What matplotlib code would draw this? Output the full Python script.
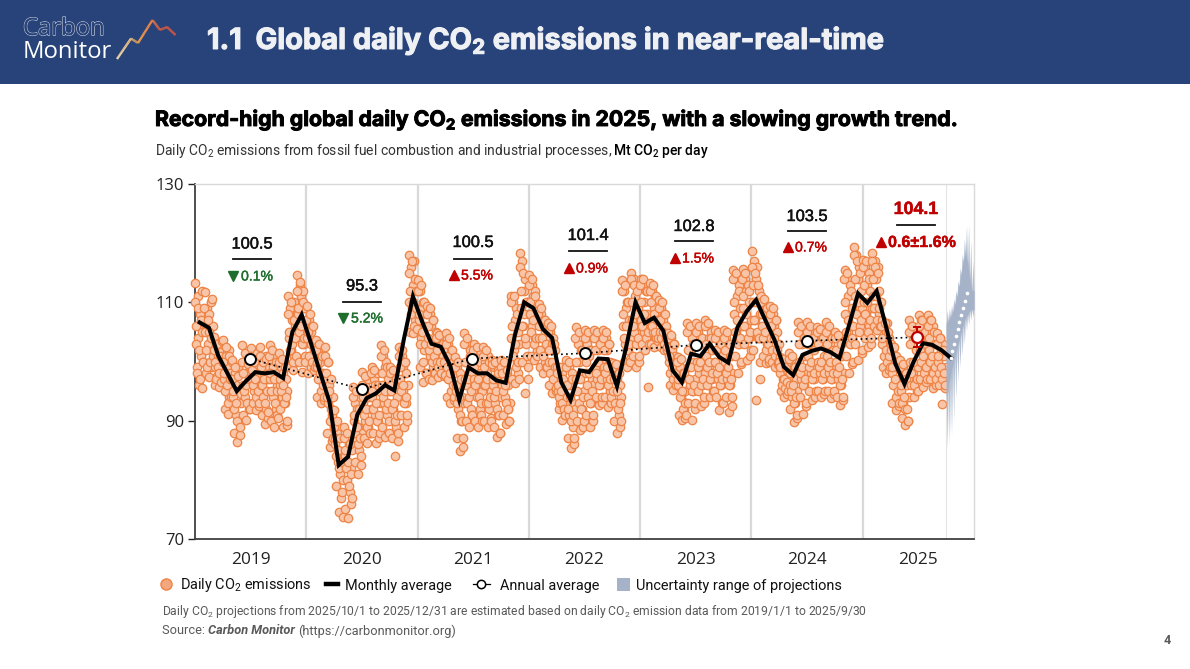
import numpy as np
import matplotlib
matplotlib.use("Agg")
import matplotlib.pyplot as plt
from matplotlib.lines import Line2D
from matplotlib.patches import Rectangle, Patch
from matplotlib.collections import LineCollection
from matplotlib.colors import LinearSegmentedColormap
import matplotlib.patheffects as pe

# ---------- data ----------
years = [2019, 2020, 2021, 2022, 2023, 2024, 2025]
annual_x = [2019.49, 2020.50, 2021.49, 2022.50, 2023.50, 2024.50, 2025.49]
annual = [100.5, 95.3, 100.5, 101.4, 102.8, 103.5, 104.1]
annual_err_2025 = 1.7
growth = ["0.1%", "5.2%", "5.5%", "0.9%", "1.5%", "0.7%", "0.6±1.6%"]
growth_up = [False, False, True, True, True, True, True]

monthly = [
    106.6, 105.7, 101.0, 98.0, 95.0, 96.7, 98.2, 98.0, 98.2, 97.2, 105.0, 107.9,
    103.1, 98.1, 93.2, 82.5, 83.9, 91.0, 93.8, 94.6, 96.0, 95.1, 103.6, 111.0,
    106.7, 103.0, 102.5, 99.4, 93.5, 99.0, 98.0, 98.0, 96.8, 96.4, 104.5, 110.0,
    109.0, 105.5, 104.0, 96.5, 93.5, 98.5, 98.2, 100.5, 100.4, 95.8, 102.5, 110.0,
    106.5, 107.4, 105.2, 98.5, 96.5, 101.3, 100.9, 103.0, 100.8, 99.8, 105.8, 108.5,
    110.4, 107.0, 103.6, 99.1, 97.7, 101.1, 101.8, 102.2, 101.6, 100.6, 106.0, 111.5,
    109.9, 111.9, 106.0, 99.7, 96.2, 100.0, 103.1, 102.8, 101.9, 100.6,
]

proj_x = [2025.79, 2025.805, 2025.82, 2025.835, 2025.853, 2025.868, 2025.883, 2025.90, 2025.918, 2025.936]
proj = [100.6, 101.8, 103.0, 104.3, 105.5, 106.7, 107.9, 109.1, 110.3, 111.5]

band_top_tip = [108.7, 109.0, 109.6, 110.6, 112.0, 113.6, 115.8, 118.2, 120.8, 122.9, 123.2, 120.5, 117.0]
band_top_val = [106.5, 106.9, 107.6, 108.3, 109.6, 111.0, 112.8, 114.8, 117.0, 118.3, 116.6, 114.0, 112.0]
band_bot_val = [94.0, 95.8, 97.6, 99.4, 101.0, 102.2, 103.6, 105.0, 106.2, 107.4, 108.0, 108.6, 108.8]
band_bot_tip = [85.4, 85.9, 87.5, 90.0, 93.6, 96.6, 99.0, 101.0, 103.0, 105.2, 106.2, 107.0, 107.6]

daily_2019 = [
    [113.2, 106, 99, 111, 104, 96, 108, 101, 95.5, 112, 100, 106.5],
    [111.8, 105, 98, 109, 103, 97.4, 108, 100, 110, 104, 99, 106],
    [104.2, 99, 96, 103, 97.5, 101, 95.7, 102, 98, 100, 96.5, 103],
    [103.6, 97, 92, 101, 95, 99, 91.2, 102, 94, 98, 93, 100],
    [100.2, 94, 88, 98, 91, 96, 86.4, 99, 90, 95, 87.5, 93],
    [102.8, 96, 91, 100, 94, 98, 90.1, 101, 93, 97, 92, 99],
    [102.2, 97, 93, 100, 95, 99, 91.8, 101, 94, 98, 92.5, 96],
    [102.5, 96, 91, 100, 94, 98, 89.5, 101, 92, 97, 90.5, 99],
    [102.8, 97, 90, 100, 94, 99, 89, 101, 92, 96, 91, 98],
    [101.4, 96, 92, 99, 94, 98, 89, 100, 93, 97, 89.2, 95],
    [111, 104, 99, 109, 102, 107, 98.5, 110, 101, 106, 100, 108],
    [114.6, 108, 100, 113, 105, 111, 98.3, 112, 103, 109, 101, 107],
]
daily_2020 = [
    [109.3, 104, 98, 107, 101, 105, 99, 106, 100, 103, 98.5, 102],
    [103.6, 99, 94, 102, 97, 100, 93, 101, 95, 98, 93.5, 96],
    [102.5, 97, 88, 100, 93, 96, 85.6, 92, 90, 86.5, 94, 89],
    [91.8, 86, 79, 88, 83, 85, 74.5, 81, 77, 84, 78, 73.8],
    [89, 84, 75, 87, 80, 83, 73.5, 86, 78, 82, 76, 85],
    [95.7, 90, 83, 93, 87, 92, 81, 89, 85, 94, 82.5, 88],
    [98.3, 93, 87, 96, 90, 95, 86.2, 97, 89, 94, 88, 92],
    [99.1, 94, 88, 97, 91, 96, 86.2, 98, 90, 95, 87, 93],
    [102.8, 96, 89, 101, 93, 99, 87.3, 100, 91, 97, 88, 95],
    [99, 95, 87, 98, 92, 96, 84, 97, 89, 94, 86.5, 91],
    [102.5, 97, 91, 101, 95, 99, 89, 100, 93, 98, 90, 96],
    [118, 110, 105, 116, 109, 113, 104.8, 117, 107, 112, 106, 108],
]
daily_2021 = [
    [113.8, 107, 99, 112, 104, 109, 96.6, 110, 102, 106, 98, 108],
    [109.3, 104, 97, 108, 101, 106, 96.9, 107, 99, 103, 98, 105],
    [104.8, 100, 97.4, 104, 99, 102, 98, 103, 100, 101, 97.6, 98.5],
    [104.8, 99, 94, 103, 97, 101, 93, 102, 95, 100, 93.5, 98],
    [100.8, 95, 87, 99, 92, 96, 84.8, 98, 90, 94, 85.5, 93],
    [104.8, 97, 90, 103, 93, 100, 89, 102, 92, 98, 91, 95],
    [103, 97, 90, 101, 94, 100, 89, 102, 92, 98, 91, 95],
    [102.5, 96, 90, 100, 93, 98, 89, 101, 92, 97, 90.5, 95],
    [100.3, 96, 89, 99, 93, 97, 87.3, 98.5, 91, 95, 88, 94],
    [100.3, 96, 91, 99, 94, 97, 89.5, 98, 92, 96, 90, 93],
    [111, 104, 97, 110, 102, 107, 96.3, 109, 100, 105, 98, 103],
    [118.3, 109, 100, 117, 106, 112, 94.6, 114, 103, 110, 97, 108],
]
daily_2022 = [
    [114.6, 108, 101, 113, 106, 111, 100.3, 112, 104, 109, 102, 107],
    [109.8, 104, 99, 108, 102, 106, 98, 107, 100, 105, 99, 103],
    [106.5, 100, 96, 105, 98, 103, 94.6, 104, 97, 102, 95, 99],
    [99, 95, 92, 98, 93, 97, 90.1, 98, 94, 96, 91, 93],
    [100.3, 94, 87, 99, 91, 96, 85.3, 98, 89, 93, 86, 92],
    [105.9, 97, 90, 103, 93, 100, 88.4, 102, 92, 98, 89, 95],
    [105.3, 98, 91, 103, 94, 101, 89, 102, 93, 97, 90, 96],
    [105.3, 99, 94, 104, 97, 102, 92.7, 103, 96, 100, 93, 98],
    [105.3, 99, 94, 104, 97, 102, 92.3, 103, 95, 100, 93, 98],
    [99.7, 95, 90, 99, 93, 97, 87.9, 98, 91, 96, 89, 94],
    [113.8, 106, 100, 112, 103, 109, 99, 110, 102, 107, 100.5, 104],
    [114.9, 107, 101, 114, 105, 111, 99, 113, 103, 109, 100, 106],
]
daily_2023 = [
    [114, 107, 103, 113, 105, 110, 102, 112, 104, 108, 95.7, 106],
    [113.2, 106, 103, 112, 105, 109, 102.5, 111, 104, 108, 103.5, 107],
    [110.4, 105, 102.5, 109, 104, 107, 102, 108, 103, 106, 102, 104.5],
    [104.8, 100, 96, 104, 98, 102, 95.2, 103, 97, 101, 96, 99],
    [100.8, 96, 91, 99, 94, 97, 90.1, 98, 92, 95, 90.5, 93],
    [106.5, 99, 93, 105, 96, 102, 90.1, 104, 95, 100, 92, 97],
    [106.5, 100, 95, 105, 98, 103, 92.4, 104, 96, 101, 93, 98],
    [107, 101, 96, 106, 99, 104, 94, 105, 97, 102, 95, 100],
    [105.3, 100, 94, 104, 97, 102, 91.8, 103, 96, 101, 93, 98],
    [105.3, 100, 94, 104, 97, 102, 91.5, 103, 96, 101, 92.5, 98],
    [115.5, 108, 101, 114, 105, 111, 98, 113, 103, 109, 99.5, 106],
    [115.7, 109, 103, 114, 106, 112, 100.3, 113, 104, 110, 101, 107],
]
daily_2024 = [
    [118.6, 110, 102, 117, 107, 114, 93.5, 116, 104, 112, 97, 108],
    [111, 106, 101, 110, 104, 108, 99.7, 109, 103, 107, 100, 105],
    [109.3, 104, 100, 108, 102, 106, 99, 107, 101, 105, 99.5, 103],
    [100.8, 98, 95, 100, 97, 99, 94, 100.3, 96, 98.5, 94.5, 97],
    [101.4, 96, 92, 100, 94, 98, 89.8, 99, 93, 97, 90.5, 95],
    [106.7, 100, 94, 105, 97, 103, 91.2, 104, 96, 101, 92.5, 98],
    [106.7, 101, 95, 105, 98, 103, 93.5, 104, 97, 102, 94, 99],
    [105.9, 100, 95, 105, 98, 103, 94, 104, 97, 101, 94.5, 99],
    [106.7, 101, 95, 105, 98, 103, 93.8, 104, 97, 102, 94.5, 99],
    [105, 100, 94, 104, 97, 102, 92.7, 103, 96, 101, 93.5, 98],
    [115.5, 108, 101, 114, 105, 111, 98, 113, 103, 109, 99.5, 106],
    [119.4, 111, 103, 118, 108, 114, 100.3, 116, 106, 112, 101.5, 109],
]
daily_2025 = [
    [117.2, 110, 104, 116, 108, 113, 102.5, 115, 106, 112, 103, 109],
    [118.3, 111, 106, 117, 109, 114, 105.3, 116, 108, 112, 106, 110],
    [107, 103, 99, 106, 101, 105, 98, 106.5, 100, 104, 98.5, 102],
    [103, 98, 93, 102, 96, 100, 91.8, 101, 94, 99, 92.5, 97],
    [100.2, 95, 90.5, 99, 93, 97, 89.3, 98, 92, 96, 90, 94],
    [107, 100, 96, 106, 98, 104, 94, 105, 97, 102, 95, 99],
    [107.9, 102, 97, 107, 100, 105, 95.7, 106, 99, 103, 96.5, 101],
    [107.9, 102, 97, 107, 100, 105, 95.5, 106, 99, 103, 96, 101],
    [104.8, 100, 96, 104, 98, 102, 92.9, 103, 97, 101, 95.5, 99],
]

# second reading of the same months, filling the dense inner part of the cloud
more_2019 = [
    [110, 103, 98, 109, 102, 97, 107, 105, 100],
    [109, 102, 99, 107, 105, 100, 104, 110.5, 101],
    [102, 100, 97, 103, 99, 98, 101, 96.5, 103.5],
    [100, 98, 95, 102.5, 96, 93, 101, 97, 94],
    [97, 95, 92, 99, 93, 90, 97.5, 89, 94.5],
    [100, 98, 95, 101.5, 96, 93, 99.5, 97, 92],
    [101, 98.5, 96, 100, 97, 94, 101.5, 95, 93],
    [101, 99, 96, 100, 97, 93, 100.5, 95, 91.5],
    [101, 98, 95, 102, 97, 93, 100, 95, 90.5],
    [100, 97, 95, 100.5, 96, 93, 99, 94, 90],
    [108, 105, 102, 110, 103, 100, 107, 104, 101],
    [112, 109, 105, 113.5, 106, 103, 110, 104, 100],
]
more_2020 = [
    [107, 105, 101, 108, 103, 100, 106, 102, 99],
    [102, 100, 97, 103, 98, 95, 101, 96, 94],
    [101, 98, 94, 100, 95, 90, 97, 91, 87],
    [89, 87, 84, 90, 85, 82, 87, 83, 80],
    [87, 85, 82, 88, 83, 79, 86, 81, 77],
    [94, 91, 88, 95, 89, 86, 92, 87, 84],
    [96, 94, 91, 97.5, 92, 89, 95, 90, 88],
    [98, 95, 92, 98.5, 93, 90, 96, 91, 88],
    [101, 98, 94, 102, 95, 92, 99, 93, 90],
    [98, 96, 92, 98.5, 93, 90, 97, 91, 88],
    [101, 99, 95, 102, 96, 93, 100, 94, 91],
    [115, 112, 108, 117, 110, 106, 114, 109, 105.5],
]
more_2021 = [
    [112, 108, 103, 113, 105, 100, 110, 103, 98],
    [108, 106, 102, 109, 103, 100, 107, 101, 98],
    [104, 102, 99, 104.5, 100, 98, 103, 100, 97.8],
    [103, 101, 97, 104, 98, 95, 102, 96, 94],
    [99, 96, 93, 100, 94, 91, 97, 90, 87],
    [103, 100, 96, 104, 97, 94, 101, 95, 91],
    [102, 99, 96, 102.5, 97, 94, 100, 93, 90],
    [101, 99, 96, 102, 97, 93, 100, 94, 90],
    [99.5, 97, 94, 100, 95, 92, 98, 91, 88],
    [99, 98, 95, 100, 96, 93, 98.5, 92, 90],
    [110, 106, 101, 111, 103, 99, 108, 100, 97],
    [116, 112, 106, 115, 108, 104, 110, 101, 99],
]
more_2022 = [
    [113, 110, 105, 114, 107, 103, 111, 104, 101],
    [108, 106, 102, 109, 104, 101, 107, 103, 99],
    [105, 102, 98, 106, 100, 97, 103, 99, 95.5],
    [98, 96, 94, 99, 95, 93, 97, 92, 91],
    [99, 96, 92, 100, 94, 90, 97, 91, 87],
    [104, 100, 95, 105, 97, 92, 102, 94, 90],
    [104, 100, 96, 105, 98, 93, 102, 95, 91],
    [104, 102, 98, 105, 100, 96, 103, 97, 94],
    [104, 102, 98, 105, 99, 96, 103, 97, 94],
    [99, 97, 93, 99.5, 95, 92, 98, 93, 90],
    [112, 108, 104, 113, 106, 102, 110, 103, 100],
    [114, 110, 106, 113, 108, 103, 112, 104, 101],
]
more_2023 = [
    [113, 110, 106, 114, 108, 104, 112, 105, 103],
    [112, 110, 106, 113, 108, 105, 111, 107, 104],
    [109, 107, 104, 110, 105, 103, 108, 104, 102.5],
    [104, 101, 98, 104.5, 99, 97, 103, 98, 96],
    [100, 97, 94, 100.5, 95, 92, 98, 93, 91],
    [105, 102, 97, 106, 99, 95, 103, 96, 93],
    [105, 103, 99, 106, 100, 96, 104, 97, 94],
    [106, 103, 99, 106.5, 100, 97, 104, 98, 95],
    [104, 102, 98, 105, 99, 96, 103, 97, 93],
    [104, 102, 98, 105, 99, 96, 103, 97, 94],
    [114, 110, 105, 115, 107, 103, 112, 104, 100],
    [114, 111, 106, 115, 108, 104, 112, 105, 102],
]
more_2024 = [
    [116, 113, 107, 115, 110, 105, 113, 104, 100],
    [110, 108, 104, 110.5, 105, 102, 109, 103, 100.5],
    [108, 106, 102, 109, 104, 101, 107, 102, 100],
    [100, 99, 96, 100.5, 97, 95.5, 99, 96.5, 95],
    [100.5, 98, 95, 101, 96, 93, 99, 94, 91],
    [105, 103, 98, 106, 99, 96, 104, 97, 93],
    [105, 103, 99, 106, 100, 97, 104, 98, 95],
    [105, 103, 99, 105.5, 100, 97, 104, 98, 95],
    [105, 103, 99, 106, 100, 97, 104, 98, 95],
    [104, 102, 98, 104.5, 99, 96, 103, 97, 94],
    [114, 110, 105, 115, 107, 103, 112, 104, 100],
    [118, 114, 108, 117, 110, 105, 115, 107, 102],
]
more_2025 = [
    [116, 113, 108, 117, 110, 105, 114, 107, 104],
    [117, 114, 109, 116, 111, 107, 115, 109, 106],
    [106, 104, 101, 106.5, 102, 100, 105, 101, 99],
    [102, 99, 96, 102.5, 97, 94, 100, 95, 93],
    [99, 96, 93, 99.5, 94, 92, 97, 92, 90],
    [105, 103, 98, 106, 100, 96, 104, 97, 95],
    [106, 104, 100, 107, 101, 98, 105, 99, 97],
    [106, 104, 100, 107, 101, 98, 105, 99, 97],
    [103, 101, 98, 104, 99, 97, 102, 98, 96],
]

# ---------- layout ----------
W, H = 1190, 669
plt.rcParams["font.family"] = ["Roboto", "DejaVu Sans"]
plt.rcParams["mathtext.default"] = "regular"
NAVY = "#27437A"
RED = "#C00000"
GREEN = "#1F6E2E"
DARK = "#111111"
SUB2 = "$_{\\mathregular{2}}$"


def fx(px):
    return px / W


def fy(py):
    return 1 - py / H


fig = plt.figure(figsize=(W / 100, H / 100), dpi=100, facecolor="white")
renderer = fig.canvas.get_renderer()


def fit_width(t, px):
    t.set_fontsize(t.get_fontsize() * px / t.get_window_extent(renderer).width)
    return t


# header band
fig.add_artist(Rectangle((0, fy(84)), 1, 84 / H, transform=fig.transFigure, color=NAVY, lw=0, zorder=0))

# main axes
ax = fig.add_axes([fx(195), fy(539), 779 / W, 355 / H], zorder=2)
ax.set_xlim(2019, 2026)
ax.set_ylim(70, 130)

for sp in ("top", "right"):
    ax.spines[sp].set_color("#D9D9D9")
    ax.spines[sp].set_linewidth(1.0)
for sp in ("left", "bottom"):
    ax.spines[sp].set_color("#404040")
    ax.spines[sp].set_linewidth(1.3)

for yr in years[1:]:
    ax.axvline(yr, color="#D9D9D9", lw=1.6, zorder=1)
ax.axvline(2025.75, color="#E4E4E4", lw=0.8, zorder=1)

ax.set_yticks([70, 90, 110, 130])
ax.tick_params(axis="y", labelsize=12, colors="#222222", length=5, width=1.0, pad=3)
ax.set_xticks([y + 0.5 for y in years])
ax.set_xticklabels([str(y) for y in years])
ax.tick_params(axis="x", labelsize=12.4, colors="#222222", length=0, pad=9)
for lab in ax.get_xticklabels() + ax.get_yticklabels():
    lab.set_family("Open Sans")

# daily points
xs, ys = [], []
blocks = [daily_2019, daily_2020, daily_2021, daily_2022, daily_2023, daily_2024, daily_2025]
extras = [more_2019, more_2020, more_2021, more_2022, more_2023, more_2024, more_2025]
for yr, block, extra in zip(years, blocks, extras):
    for m in range(len(block)):
        for k, v in enumerate(block[m]):
            xs.append(yr + (m + (k + 0.5) / len(block[m])) / 12)
            ys.append(v)
        for k, v in enumerate(extra[m]):
            xs.append(yr + (m + (k + 0.2) / len(extra[m])) / 12)
            ys.append(v)
ax.scatter(xs, ys, s=37, facecolor="#F8C5A8", edgecolor="#EE8345", linewidth=0.9, zorder=3, clip_on=False)

# uncertainty band: saw-toothed envelope, one tooth for each value
n = len(band_top_tip)
bx = np.linspace(2025.75, 2026.0, 2 * n + 1)
top = np.empty(2 * n + 1)
bot = np.empty(2 * n + 1)
top[1::2] = band_top_tip
bot[1::2] = band_bot_tip
top[0::2] = band_top_val + band_top_val[-1:]
bot[0::2] = band_bot_val + band_bot_val[-1:]
ax.fill_between(bx, bot, top, color="#B4C0D2", lw=0, zorder=3.5)
ax.fill_between(bx[0::2], bot[0::2], top[0::2], color="#A5B2C8", lw=0, zorder=3.6)

# annual dotted trend
ax.plot(annual_x, annual, color="black", lw=1.2, ls=(0, (1, 2)), zorder=4)

# monthly average
mx = [years[i // 12] + (i % 12 + 0.5) / 12 for i in range(len(monthly))]
ax.plot(mx, monthly, color="black", lw=2.9, solid_joinstyle="miter", zorder=5)

# projection dots
ax.scatter(proj_x, proj, s=7, color="white", lw=0, zorder=6)

# annual markers
ax.errorbar(annual_x[-1], annual[-1], yerr=annual_err_2025, color=RED, lw=1.4, capsize=3, capthick=1.4, zorder=6)
ax.scatter(annual_x[:-1], annual[:-1], s=62, facecolor="white", edgecolor="black", linewidth=1.4, zorder=7)
ax.scatter(annual_x[-1:], annual[-1:], s=62, facecolor="white", edgecolor=RED, linewidth=1.6, zorder=7)

# annual annotations (pixel layout)
lab_x = [252, 362, 473, 588, 694, 807, 916]
lab_y = [244, 286, 242.5, 235.5, 226.5, 216.5, 209.5]
line_y = [259, 302, 259, 251, 241, 231, 225]
pct_y = [276.5, 318.5, 275.5, 268.5, 258.5, 247.5, 242.5]
tri_dx = [-19, -19, -19, -19, -19, -19, -35]
pct_dx = [-11, -11, -12, -12, -12, -12, -28]

for i in range(7):
    c = RED if i == 6 else DARK
    fig.text(fx(lab_x[i]), fy(lab_y[i]), f"{annual[i]}", ha="center", va="center",
             fontsize=12.8 if i == 6 else 11.8, color=c, weight="bold" if i == 6 else "normal", zorder=10,
             family="Liberation Sans", path_effects=[pe.withStroke(linewidth=0.35, foreground=c)])
    fig.add_artist(Line2D([fx(lab_x[i] - 19), fx(lab_x[i] + 19)], [fy(line_y[i])] * 2, color="#111111", lw=1.3,
                          transform=fig.transFigure, zorder=10))
    col = RED if growth_up[i] else GREEN
    fig.add_artist(Line2D([fx(lab_x[i] + tri_dx[i])], [fy(pct_y[i] - 1)], marker="^" if growth_up[i] else "v",
                          color=col, ms=7.5, lw=0, transform=fig.transFigure, zorder=10))
    fig.text(fx(lab_x[i] + pct_dx[i]), fy(pct_y[i]), growth[i], ha="left", va="center",
             fontsize=11.6 if i == 6 else 10.1, color=col, weight="bold" if i == 6 else "normal", zorder=10,
             family="Liberation Sans", path_effects=[pe.withStroke(linewidth=0.3, foreground=col)])

# titles
t1 = fig.text(fx(207), fy(41), "1.1  Global daily CO" + SUB2 + " emissions in near-real-time", fontsize=20,
              weight="bold", color="#EEF0F4", va="center", ha="left", family="Inter",
              path_effects=[pe.withStroke(linewidth=0.8, foreground="#EEF0F4")], zorder=5)
fit_width(t1, 678)
t2 = fig.text(fx(155), fy(119.5), "Record-high global daily CO" + SUB2 + " emissions in 2025, with a slowing growth trend.",
              fontsize=16, weight="bold", color="black", va="center", ha="left", family="Inter",
              path_effects=[pe.withStroke(linewidth=0.7, foreground="black")])
fit_width(t2, 803)


def runs(x, y, parts, **kw):
    for s, extra in parts:
        t = fig.text(fx(x), fy(y), s, va="center", ha="left", **{**kw, **extra})
        x += t.get_window_extent(renderer).width


runs(155, 151, [("Daily CO" + SUB2 + " emissions from fossil fuel combustion and industrial processes, ", {}),
                ("Mt CO" + SUB2 + " per day", {"weight": "medium", "color": "black"})],
     fontsize=10, color="#333333")

# legend: one entry per slot so each sits where the reference has it
entries = [
    (Line2D([], [], marker="o", ms=8, mfc="#F4A77C", mec="#EE8345", mew=1, lw=0), "Daily CO" + SUB2 + " emissions", 160, 12, 180),
    (Line2D([], [], color="black", lw=3.2), "Monthly average", 326, 12, 345),
    (Line2D([], [], color="black", lw=0.9, marker="o", ms=6, mfc="white", mec="black", mew=1.1), "Annual average", 473, 17, 500),
    (Patch(facecolor="#A5B2C8", edgecolor="none"), "Uncertainty range of projections", 617, 13, 636),
]
EM = 10.45 * 100 / 72
for h, name, x0, w, tx in entries:
    fig.legend([h], [name], loc="center left", bbox_to_anchor=(fx(x0), fy(585.5)), frameon=False, fontsize=10.45,
               handlelength=w / EM, handleheight=0.95, handletextpad=(tx - x0 - w) / EM, borderpad=0, borderaxespad=0,
               labelcolor="#111111")

# footnotes
f1 = fig.text(fx(162), fy(612), "Daily CO" + SUB2 + " projections from 2025/10/1 to 2025/12/31 are estimated based on daily CO" + SUB2 + " emission data from 2019/1/1 to 2025/9/30",
              fontsize=8.8, color="#595959", va="center", ha="left")
fit_width(f1, 705)
runs(162, 631, [("Source: ", {}), ("Carbon Monitor ", {"weight": "bold", "style": "italic"}), ("(https://carbonmonitor.org)", {})],
     fontsize=9.2, color="#595959")
fig.text(fx(1167), fy(641), "4", fontsize=9, weight="bold", color="#595959", va="center", ha="center")

# logo
fig.text(fx(23), fy(29), "Carbon", fontsize=17.2, color=NAVY, va="center", ha="left", family="Open Sans",
         path_effects=[pe.withStroke(linewidth=1.0, foreground="#C8CDD8"), pe.Normal()], zorder=5)
fig.text(fx(23), fy(52), "Monitor", fontsize=17.2, color="white", va="center", ha="left", family="Open Sans", zorder=5)
lx = np.array([117, 131, 138, 152.5, 160, 167, 175.5])
ly = np.array([59, 38.5, 43, 20, 30, 27, 35])
sx = np.interp(np.linspace(0, 6, 120), np.arange(7), lx)
sy = np.interp(np.linspace(0, 6, 120), np.arange(7), ly)
pts = np.column_stack([sx / W, 1 - sy / H])
segs = np.stack([pts[:-1], pts[1:]], axis=1)
cmap = LinearSegmentedColormap.from_list("logo", ["#FBE3B0", "#F7A54A", "#F2603C", "#F05A3C"])
lc = LineCollection(segs, cmap=cmap, array=np.linspace(0, 1, 119), lw=1.7, transform=fig.transFigure, zorder=5)
fig.add_artist(lc)

fig.savefig("out.png", dpi=100)
